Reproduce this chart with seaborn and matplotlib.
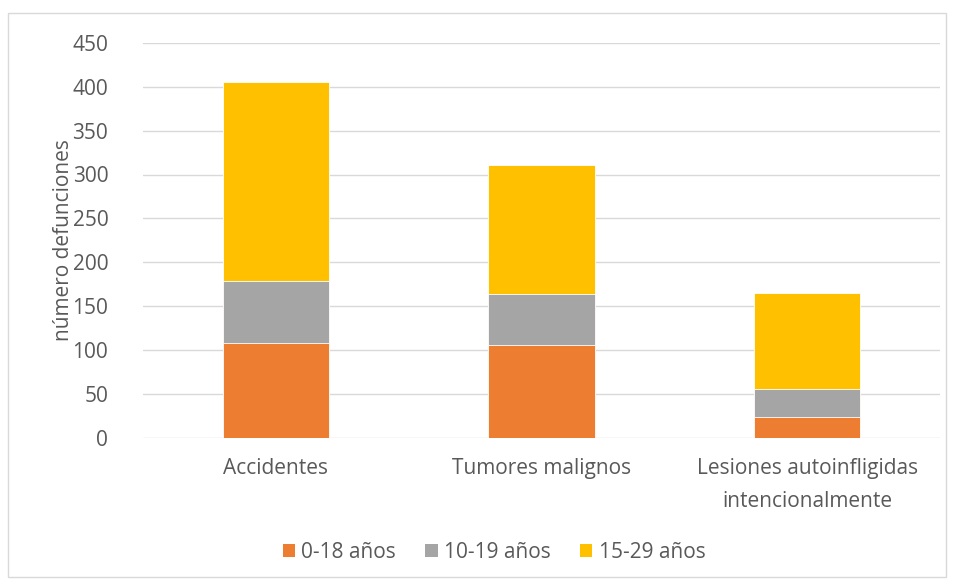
import matplotlib
matplotlib.use("Agg")
import matplotlib.pyplot as plt
from matplotlib.patches import Patch, Rectangle
import numpy as np
import pandas as pd
import seaborn as sns

categories = ["Accidentes", "Tumores malignos", "Lesiones autoinfligidas\nintencionalmente"]
series_names = ["0-18 años", "10-19 años", "15-29 años"]
vals_0_18 = [108, 105, 23]
vals_10_19 = [70, 59, 32]
vals_15_29 = [228, 147, 110]
colors = ["#ED7D31", "#A5A5A5", "#FFC000"]
y_ticks = [0, 50, 100, 150, 200, 250, 300, 350, 400, 450]

sns.set_theme(style="white")
plt.rcParams["font.family"] = ["Open Sans", "DejaVu Sans"]

fig = plt.figure(figsize=(9.55, 5.81), dpi=100)
ax = fig.add_axes([143 / 955, 1 - 437.5 / 581, (940 - 143) / 955, (437.5 - 43) / 581])

# stacked layers: draw cumulative totals from the top layer down
layers = [vals_0_18, vals_10_19, vals_15_29]
cum = np.cumsum(np.array(layers), axis=0)
for i in range(len(layers) - 1, -1, -1):
    df = pd.DataFrame({"cat": categories, "val": cum[i]})
    sns.barplot(data=df, x="cat", y="val", color=colors[i], width=0.4,
                saturation=1, edgecolor="white", linewidth=0.6, ax=ax, zorder=3)

ax.set_ylim(0, 450)
ax.set_yticks(y_ticks)
ax.set_xlim(-0.5, 2.5)
ax.grid(axis="y", color="#D9D9D9", linewidth=1.0, zorder=0)
ax.set_axisbelow(True)
for s in ax.spines.values():
    s.set_visible(False)
ax.tick_params(axis="both", length=0, colors="#595959", labelsize=15)
ax.tick_params(axis="y", pad=25)
ax.tick_params(axis="x", pad=15)
ax.set_xlabel("")
ax.set_ylabel("número defunciones", color="#595959", fontsize=15)
ax.yaxis.set_label_coords(-0.087, 0.5)
for lab in ax.get_xticklabels():
    lab.set_linespacing(1.7)

handles = [Patch(facecolor=c, edgecolor="none") for c in colors]
fig.legend(handles, series_names, loc="center", bbox_to_anchor=(494 / 955, 1 - 552 / 581),
           ncol=3, frameon=False, fontsize=15, labelcolor="#595959",
           handlelength=0.6, handleheight=0.6, handletextpad=0.3, columnspacing=1.4)

fig.patches.append(Rectangle((8 / 955, 1 - 577 / 581), (946 - 8) / 955, (577 - 13) / 581,
                             transform=fig.transFigure, fill=False,
                             edgecolor="#D9D9D9", linewidth=1))

fig.savefig("out.png", dpi=100, facecolor="white")
